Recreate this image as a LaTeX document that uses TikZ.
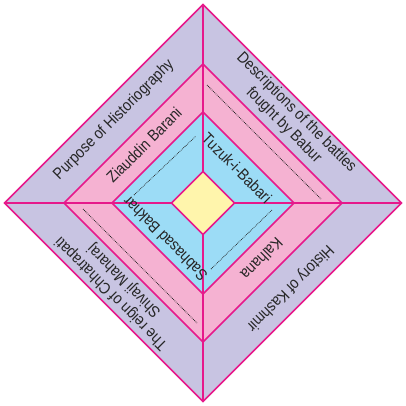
\documentclass[tikz,border=0pt]{standalone}
\usepackage{fontspec}
\setmainfont[FakeStretch=0.88]{Liberation Sans}
\begin{document}
\begin{tikzpicture}[x=1pt,y=1pt,line join=miter]
\definecolor{lav}{RGB}{200,196,226}
\definecolor{pnk}{RGB}{245,178,210}
\definecolor{blu}{RGB}{156,220,246}
\definecolor{yel}{RGB}{255,245,172}
\definecolor{mag}{RGB}{230,25,139}
\tikzset{
  edge/.style={draw=mag,line width=1.5pt},
  lbl/.style={font=\fontsize{16}{18}\selectfont,align=center,inner sep=0pt,text=black!85},
  dots/.style={line width=0.75pt,dash pattern=on 0.75pt off 1pt,black!85}
}
\useasboundingbox (-203,-202) rectangle (203,203);
% vertices
\foreach \n/\r in {o/198.5,m/139,i/91,c/31.5}{
  \coordinate (\n T) at (0,\r);
  \coordinate (\n R) at (\r,0);
  \coordinate (\n B) at (0,-\r);
  \coordinate (\n L) at (-\r,0);
}
\path[edge,fill=lav] (oT) -- (oR) -- (oB) -- (oL) -- cycle;
\path[edge,fill=pnk] (mT) -- (mR) -- (mB) -- (mL) -- cycle;
\path[edge,fill=blu] (iT) -- (iR) -- (iB) -- (iL) -- cycle;
\draw[edge] (oT) -- (oB);
\draw[edge] (oL) -- (oR);
\path[edge,fill=yel] (cT) -- (cR) -- (cB) -- (cL) -- cycle;
% dotted guide lines
\coordinate (d1a) at (4,118); \coordinate (d1b) at (118,4);
\coordinate (d2a) at (-120,-6); \coordinate (d2b) at (-6,-120);
\coordinate (d3a) at (-69,8); \coordinate (d3b) at (-7,67);
\coordinate (d4a) at (8,-66); \coordinate (d4b) at (69,-7);
\draw[dots] (d1a) -- (d1b);
\draw[dots] (d2a) -- (d2b);
\draw[dots] (d3a) -- (d3b);
\draw[dots] (d4a) -- (d4b);
% labels
\node[lbl,rotate=45] (p1) at (-89,83) {Purpose of Historiography};
\node[lbl,rotate=-45] (p2) at (87,84) {Descriptions of the battles\\fought by Babur};
\node[lbl,rotate=45] (p3) at (-59,58) {Ziauddin Barani};
\node[lbl,rotate=-45] (p4) at (34,35) {Tuzuk-i-Babari};
\node[lbl,rotate=135] (p5) at (-38,-36) {Sabhasad Bakhar};
\node[lbl,rotate=225] (p6) at (59,-56) {Kalhana};
\node[lbl,rotate=225] (p7) at (87,-85) {History of Kashmir};
\node[lbl,rotate=135] (p8) at (-85,-84) {The reign of Chhatrapati\\Shivaji Maharaj};
\end{tikzpicture}
\end{document}
